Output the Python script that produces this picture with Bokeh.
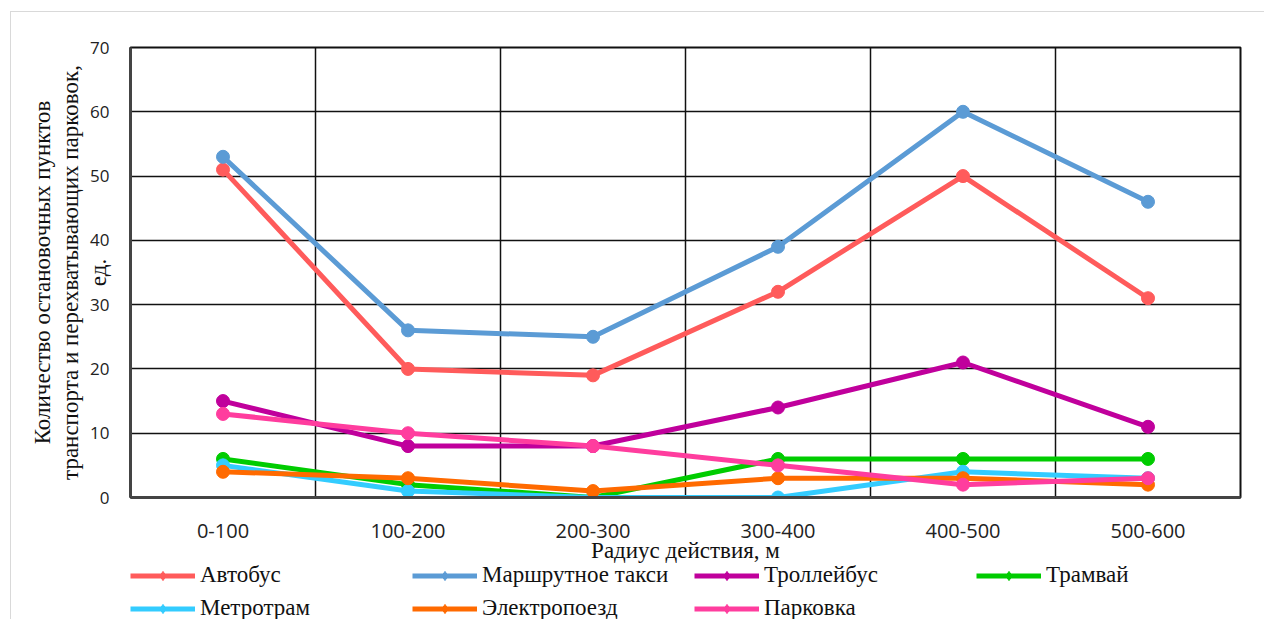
from bokeh.plotting import figure
from bokeh.models import FixedTicker, Grid, Legend, LegendItem, Range1d
from bokeh.layouts import column
from bokeh.embed import file_html
from bokeh.resources import INLINE

categories = ["0-100", "100-200", "200-300", "300-400", "400-500", "500-600"]
avtobus = [51, 20, 19, 32, 50, 31]
marshrutka = [53, 26, 25, 39, 60, 46]
trolleybus = [15, 8, 8, 14, 21, 11]
tramvai = [6, 2, 0, 6, 6, 6]
metrotram = [5, 1, 0, 0, 4, 3]
elektropoezd = [4, 3, 1, 3, 3, 2]
parkovka = [13, 10, 8, 5, 2, 3]

series = [
    ("Автобус", avtobus, "#FF5B5B"),
    ("Маршрутное такси", marshrutka, "#5B9BD5"),
    ("Троллейбус", trolleybus, "#C0009C"),
    ("Трамвай", tramvai, "#00CC00"),
    ("Метротрам", metrotram, "#33CCFF"),
    ("Электропоезд", elektropoezd, "#FF6A00"),
    ("Парковка", parkovka, "#FF3D9E"),
]

xs = [i + 0.5 for i in range(len(categories))]

p = figure(width=1253, height=553, output_backend="svg", toolbar_location=None,
           x_range=Range1d(0, 6), y_range=Range1d(0, 70),
           min_border_left=119, min_border_top=35, min_border_right=24, min_border_bottom=68)

p.xgrid.visible = False
p.ygrid.ticker = FixedTicker(ticks=list(range(0, 71, 10)))
p.ygrid.grid_line_color = "#111111"
p.ygrid.grid_line_width = 1.5
vg = Grid(dimension=0, ticker=FixedTicker(ticks=[1, 2, 3, 4, 5]), grid_line_color="#111111", grid_line_width=1.5)
p.add_layout(vg)

p.outline_line_color = "#111111"
p.outline_line_width = 2

p.xaxis.ticker = FixedTicker(ticks=xs)
p.xaxis.major_label_overrides = {x: c for x, c in zip(xs, categories)}
p.yaxis.ticker = FixedTicker(ticks=list(range(0, 71, 10)))
for ax in (p.xaxis, p.yaxis):
    ax.major_tick_line_color = None
    ax.minor_tick_line_color = None
    ax.axis_line_color = "#444444"
    ax.axis_line_width = 3
    ax.major_label_text_font = "Open Sans"
    ax.major_label_text_color = "#222222"
    ax.axis_label_text_font = "Liberation Serif"
    ax.axis_label_text_font_style = "normal"
    ax.axis_label_text_color = "#111111"
p.xaxis.major_label_text_font_size = "20px"
p.yaxis.major_label_text_font_size = "17px"
p.xaxis.major_label_standoff = 20
p.yaxis.major_label_standoff = 15
p.xaxis.axis_label = "Радиус действия, м"
p.xaxis.axis_label_text_font_size = "23px"
p.xaxis.axis_label_standoff = -3
p.yaxis.axis_label = "Количество остановочных пунктов\nтранспорта и перехватывающих парковок,\nед."
p.yaxis.axis_label_text_font_size = "23px"
p.yaxis.axis_label_standoff = -24
p.yaxis.axis_label_text_line_height = 1.13

for name, vals, col in series:
    p.line(xs, vals, line_color=col, line_width=5)
    p.scatter(xs, vals, marker="circle", size=13, fill_color=col, line_color=col)

# legend strip below the chart (its data lies outside its ranges; only the legend shows)
lg = figure(width=1253, height=62, output_backend="svg", toolbar_location=None,
            x_range=Range1d(100, 101), y_range=Range1d(100, 101),
            x_axis_location=None, y_axis_location=None,
            min_border_left=0, min_border_right=0, min_border_top=0, min_border_bottom=0,
            styles={"margin-top": "-8px"})
lg.grid.visible = False
lg.outline_line_color = None
lg.background_fill_color = None
lg.border_fill_color = None

lrs = {}
for name, vals, col in series:
    r1 = lg.line(xs, vals, line_color=col, line_width=5)
    r2 = lg.scatter(xs, vals, marker="diamond", size=9, fill_color=col, line_color=col)
    lrs[name] = [r1, r2]

order = ["Автобус", "Метротрам", "Маршрутное такси", "Электропоезд", "Троллейбус", "Парковка", "Трамвай"]
items = [LegendItem(label=n, renderers=lrs[n]) for n in order]

legend = Legend(items=items, nrows=2, location=(0, -2),
                label_text_font="Liberation Serif", label_text_font_size="23px",
                label_text_color="#111111",
                glyph_width=65, glyph_height=23, label_width=205, label_height=23,
                label_standoff=5, spacing=7, padding=0, margin=0,
                border_line_color=None, background_fill_alpha=0)
lg.add_layout(legend, "center")

layout = column(p, lg, spacing=0,
                styles={"margin-left": "10px", "margin-top": "11px",
                        "border-left": "1px solid #d9d9d9", "border-top": "1px solid #d9d9d9"})

open("out.html", "w").write(file_html(layout, INLINE))
